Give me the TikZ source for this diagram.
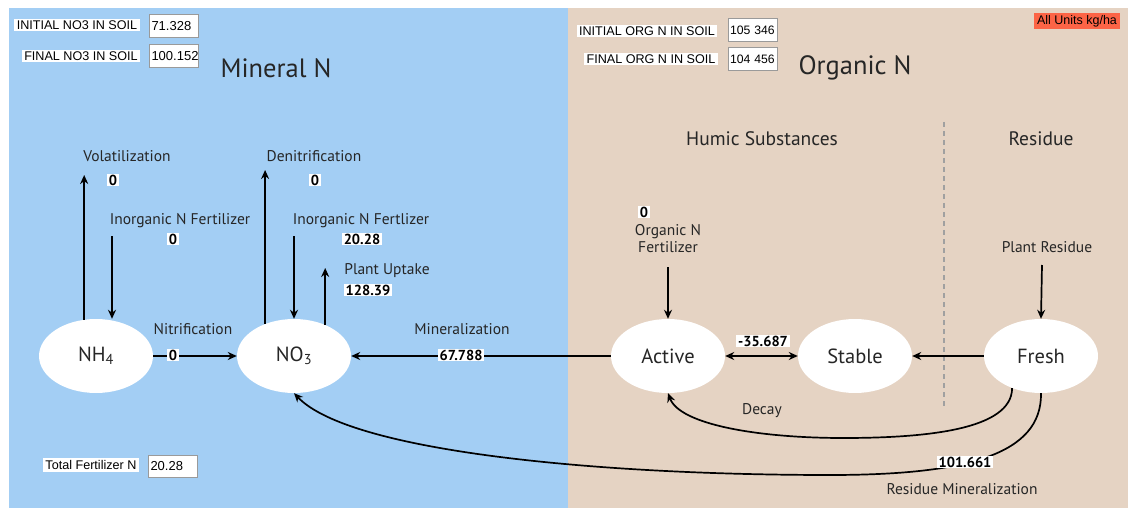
\documentclass[tikz,border=0pt]{standalone}
\usepackage{fontspec}
\setmainfont{PT Sans}
\newfontfamily\uifont{Liberation Sans}
\usetikzlibrary{arrows.meta,shapes.geometric}
\definecolor{minblue}{HTML}{A3CEF4}
\definecolor{orgtan}{HTML}{E5D3C3}
\definecolor{unitred}{HTML}{FC6446}
\definecolor{boxgray}{HTML}{9A9A9A}
\definecolor{dashgray}{HTML}{A0A0A0}
\definecolor{txt}{HTML}{262626}
\begin{document}
\begin{tikzpicture}[x=1pt,y=-1pt,
  pool/.style={ellipse,fill=white,draw=none,minimum width=114pt,minimum height=74pt,inner sep=0pt,font=\fontsize{20.5}{22}\selectfont,text=txt},
  flow/.style={line width=1.7pt,-{Stealth[length=9pt,width=8pt]}},
  lbl/.style={font=\fontsize{15.5}{17}\selectfont,text=txt,inner sep=0pt},
  head/.style={font=\fontsize{19.5}{21}\selectfont,text=txt,inner sep=0pt},
  big/.style={font=\fontsize{26.5}{28}\selectfont,text=txt,inner sep=0pt},
  val/.style={fill=white,font=\bfseries\fontsize{14.5}{15}\selectfont,inner xsep=2pt,inner ysep=1pt,text=black},
  uilbl/.style={fill=white,font=\uifont\fontsize{12.6}{13}\selectfont,inner xsep=2.5pt,inner ysep=2pt,text=black},
  uival/.style={fill=white,draw=boxgray,line width=1pt,font=\uifont\fontsize{13}{14}\selectfont,minimum width=49pt,minimum height=23pt,inner xsep=2pt,text=black,anchor=west,align=left,text width=45pt},
  uivalsm/.style={uival,font=\uifont\fontsize{12.2}{13}\selectfont,inner xsep=1.5pt,text width=46pt}
]
\useasboundingbox (0,0) rectangle (1128,508);
\fill[white] (0,0) rectangle (1128,508);
\fill[minblue] (9,8) rectangle (568,508);
\fill[orgtan] (568,8) rectangle (1128,508);

% headings
\node[big] (mineral) at (276,68) {Mineral N};
\node[big] (organic) at (855,68) {Organic N};
\node[head] (humic) at (762,139) {Humic Substances};
\node[head] (residue) at (1041,139) {Residue};
\coordinate (dashtop) at (944,122);
\coordinate (dashbot) at (944,407);
\draw[dashgray,line width=1.3pt,dash pattern=on 5pt off 4pt] (dashtop) -- (dashbot);

% info boxes
\node[uilbl] (inino3) at (77,25) {INITIAL NO3 IN SOIL};
\node[uival] (inino3v) at (149,26) {71.328};
\node[uilbl] (finno3) at (81,56) {FINAL NO3 IN SOIL};
\node[uival] (finno3v) at (149,56.5) {100.152};
\node[uilbl] (iniorg) at (647,31) {INITIAL ORG N IN SOIL};
\node[uivalsm] (iniorgv) at (728,30.5) {\mbox{105 346}};
\node[uilbl] (finorg) at (651,59) {FINAL ORG N IN SOIL};
\node[uivalsm] (finorgv) at (728,59.5) {\mbox{104 456}};
\node[fill=unitred,font=\uifont\fontsize{12.5}{13}\selectfont,inner xsep=3pt,inner ysep=2pt,text=black] (units) at (1077,21) {All Units kg/ha};
\node[uilbl] (totfert) at (91,465) {Total Fertilizer N};
\node[uival,minimum height=22pt] (totfertv) at (148,466) {20.28};

% pools
\node[pool] (nh4) at (96,356) {NH\textsubscript{4}};
\node[pool] (no3) at (294,356) {NO\textsubscript{3}};
\node[pool] (active) at (668,356) {Active};
\node[pool] (stable) at (855,356) {Stable};
\node[pool] (fresh) at (1041,356) {Fresh};

% volatilization
\coordinate (voltop) at (84,175);
\draw[flow] (nh4.108) -- (nh4.108 |- voltop);
\node[lbl] (vollbl) at (127,156) {Volatilization};
\node[val] (volval) at (113,180) {0};

% inorganic fertilizer to NH4
\coordinate (f1top) at (112,236);
\draw[flow] (f1top) -- (f1top |- nh4.north);
\node[lbl] (f1lbl) at (180,221) {Inorganic N Fertilizer};
\node[val] (f1val) at (173,239) {0};

% denitrification
\coordinate (dentop) at (265,170);
\draw[flow] (no3.132) -- (no3.132 |- dentop);
\node[lbl] (denlbl) at (314,156) {Denitrification};
\node[val] (denval) at (315,180) {0};

% inorganic fertilizer to NO3
\coordinate (f2top) at (294,236);
\draw[flow] (f2top) -- (no3.north);
\node[lbl] (f2lbl) at (361,221) {Inorganic N Fertlizer};
\node[val] (f2val) at (362,239) {20.28};

% plant uptake
\coordinate (uptop) at (325,268);
\draw[flow] (no3.45) -- (no3.45 |- uptop);
\node[lbl] (uplbl) at (387,271) {Plant Uptake};
\node[val] (upval) at (368,290) {128.39};

% nitrification
\draw[flow] (nh4.east) -- (no3.west);
\node[lbl] (nitlbl) at (193,329) {Nitrification};
\node[val] (nitval) at (173,355) {0};

% mineralization
\draw[flow] (active.west) -- (no3.east);
\node[lbl] (minlbl) at (462,329) {Mineralization};
\node[val] (minval) at (461,355) {67.788};

% active <-> stable
\draw[line width=1.7pt,{Stealth[length=9pt,width=8pt]}-{Stealth[length=9pt,width=8pt]}] (active.east) -- (stable.west);
\node[val] (asval) at (763,341) {-35.687};

% fresh -> stable
\draw[flow] (fresh.west) -- (stable.east);

% organic fertilizer
\coordinate (oftop) at (668,267);
\draw[flow] (oftop) -- (active.north);
\node[val] (ofval) at (644,212) {0};
\node[lbl,align=center] (oflbl) at (668,239) {Organic N\\[0pt]Fertilizer};

% plant residue
\coordinate (prtop) at (1042,265);
\draw[flow] (prtop) -- (fresh.north);
\node[lbl] (prlbl) at (1047,247) {Plant Residue};

% decay
\coordinate (decaylow) at (843,438);
\draw[flow] (fresh.228) .. controls (1012,430) and (925,438) .. (decaylow)
  .. controls (760,438) and (680,425) .. (active.south);
\node[lbl] (decaylbl) at (762,411) {Decay};

% residue mineralization
\coordinate (reslow) at (830,475);
\draw[flow] (fresh.south) .. controls (1042,455) and (965,475) .. (reslow)
  .. controls (600,475) and (350,452) .. (no3.south);
\node[val] (resval) at (965,462) {101.661};
\node[lbl] (reslbl) at (962,489) {Residue Mineralization};
\end{tikzpicture}
\end{document}
